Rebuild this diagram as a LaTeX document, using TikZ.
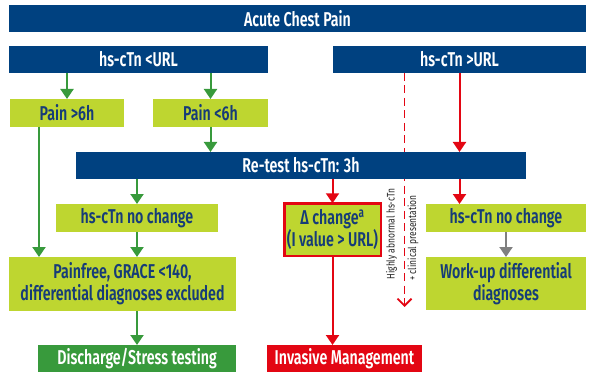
\documentclass[tikz,border=0pt]{standalone}
\usepackage{fontspec}
\setmainfont{Fira Sans}[FakeStretch=0.71, UprightFont=* SemiBold, BoldFont=* Bold]
\newfontfamily\notefont{Fira Sans}[FakeStretch=0.77]
\usetikzlibrary{arrows.meta,backgrounds}

\definecolor{navy}{RGB}{0,65,128}
\definecolor{lime}{RGB}{190,214,48}
\definecolor{okgreen}{RGB}{56,154,60}
\definecolor{alarm}{RGB}{227,6,19}
\definecolor{inkblue}{RGB}{22,60,120}
\definecolor{arrowgrey}{RGB}{128,128,128}
\definecolor{notegrey}{RGB}{35,35,35}

\tikzset{
  box/.style={anchor=north west, inner sep=0pt, outer sep=0pt, align=center,
    font=\fontsize{20}{22}\selectfont},
  bluebox/.style={box, fill=navy, text=white},
  limebox/.style={box, fill=lime, text=inkblue},
  greenbox/.style={box, fill=okgreen, text=white},
  redbox/.style={box, fill=alarm, text=white},
  flow/.style={line width=2pt, -{Triangle[width=13pt,length=10pt]}},
  goflow/.style={flow, draw=okgreen, fill=okgreen},
  stopflow/.style={flow, draw=alarm, fill=alarm},
  greyflow/.style={flow, draw=arrowgrey, fill=arrowgrey},
  shortcut/.style={draw=alarm, line width=1.8pt, dash pattern=on 8pt off 4.5pt,
    -{Straight Barb[width=14pt,length=7pt,line width=1.8pt]}},
  note/.style={inner sep=0pt, text=notegrey, font=\notefont\fontsize{11}{12}\selectfont}
}

\begin{document}
\begin{tikzpicture}[x=1pt,y=-1pt]
\useasboundingbox (0,0) rectangle (593,374);

% header rows
\node[bluebox, minimum width=577pt, minimum height=27pt] (title) at (9,5) {Acute Chest Pain};
\node[bluebox, minimum width=259pt, minimum height=27pt] (low) at (9,46) {hs-cTn <URL};
\node[bluebox, minimum width=253pt, minimum height=27pt] (high) at (333,46) {hs-cTn >URL};

% pain duration
\node[limebox, minimum width=114pt, minimum height=28pt] (late) at (10,99) {Pain >6h};
\node[limebox, minimum width=115pt, minimum height=28pt] (early) at (153,99) {Pain <6h};

% re-test bar
\node[bluebox, minimum width=450pt, minimum height=27pt] (retest) at (76,152) {Re-test hs-cTn: 3h};

% second test results
\node[limebox, minimum width=162pt, minimum height=28pt] (flatL) at (56,204) {hs-cTn no change};
\node[limebox, draw=alarm, line width=2.5pt, minimum width=96.5pt, minimum height=52.5pt]
  (delta) at (284.25,203.25) {Δ change\textsuperscript{a}\\(I value > URL)};
\node[limebox, minimum width=160pt, minimum height=28pt] (flatR) at (426,204) {hs-cTn no change};

% conclusions
\node[limebox, minimum width=227pt, minimum height=54pt] (painfree) at (9,257)
  {Painfree, GRACE <140,\\differential diagnoses excluded};
\node[limebox, minimum width=160pt, minimum height=53pt] (workup) at (426,257)
  {Work-up differential\\diagnoses};

% outcomes
\node[greenbox, minimum width=198pt, minimum height=27pt] (discharge) at (38,345) {Discharge/Stress testing};
\node[redbox, minimum width=155pt, minimum height=27pt] (invasive) at (267,345) {Invasive Management};

% side note along the dashed shortcut
\node[note, rotate=90] (noteA) at (391.5,234) {Highly abnormal hs-cTn};
\node[note, rotate=90] (noteB) at (413,238) {+ clinical presentation};
\coordinate (dashend) at (404.5,307);

\begin{scope}[on background layer]
  \draw[shortcut] (high.south -| dashend) -- (dashend);
\end{scope}

% low troponin branch
\draw[goflow] (low.south -| late.north) -- (late.north);
\draw[goflow] (low.south -| early.north) -- (early.north);
\draw[goflow] (early.south) -- (early.south |- retest.north);
\draw[goflow] ([xshift=-28pt]late.south) -- ([xshift=-28pt]late.south |- painfree.north);
\draw[goflow] (retest.south -| flatL.north) -- (flatL.north);
\draw[goflow] (flatL.south) -- (flatL.south |- painfree.north);
\draw[goflow] (painfree.south -| discharge.north) -- (discharge.north);

% high troponin branch
\draw[stopflow] (high.south) -- (high.south |- retest.north);
\draw[stopflow] (retest.south -| high.south) -- (flatR.north -| high.south);
\draw[stopflow] (retest.south -| delta.north) -- (delta.north);
\draw[stopflow] (delta.south) -- (delta.south |- invasive.north);
\draw[greyflow] (flatR.south) -- (workup.north);
\end{tikzpicture}
\end{document}
